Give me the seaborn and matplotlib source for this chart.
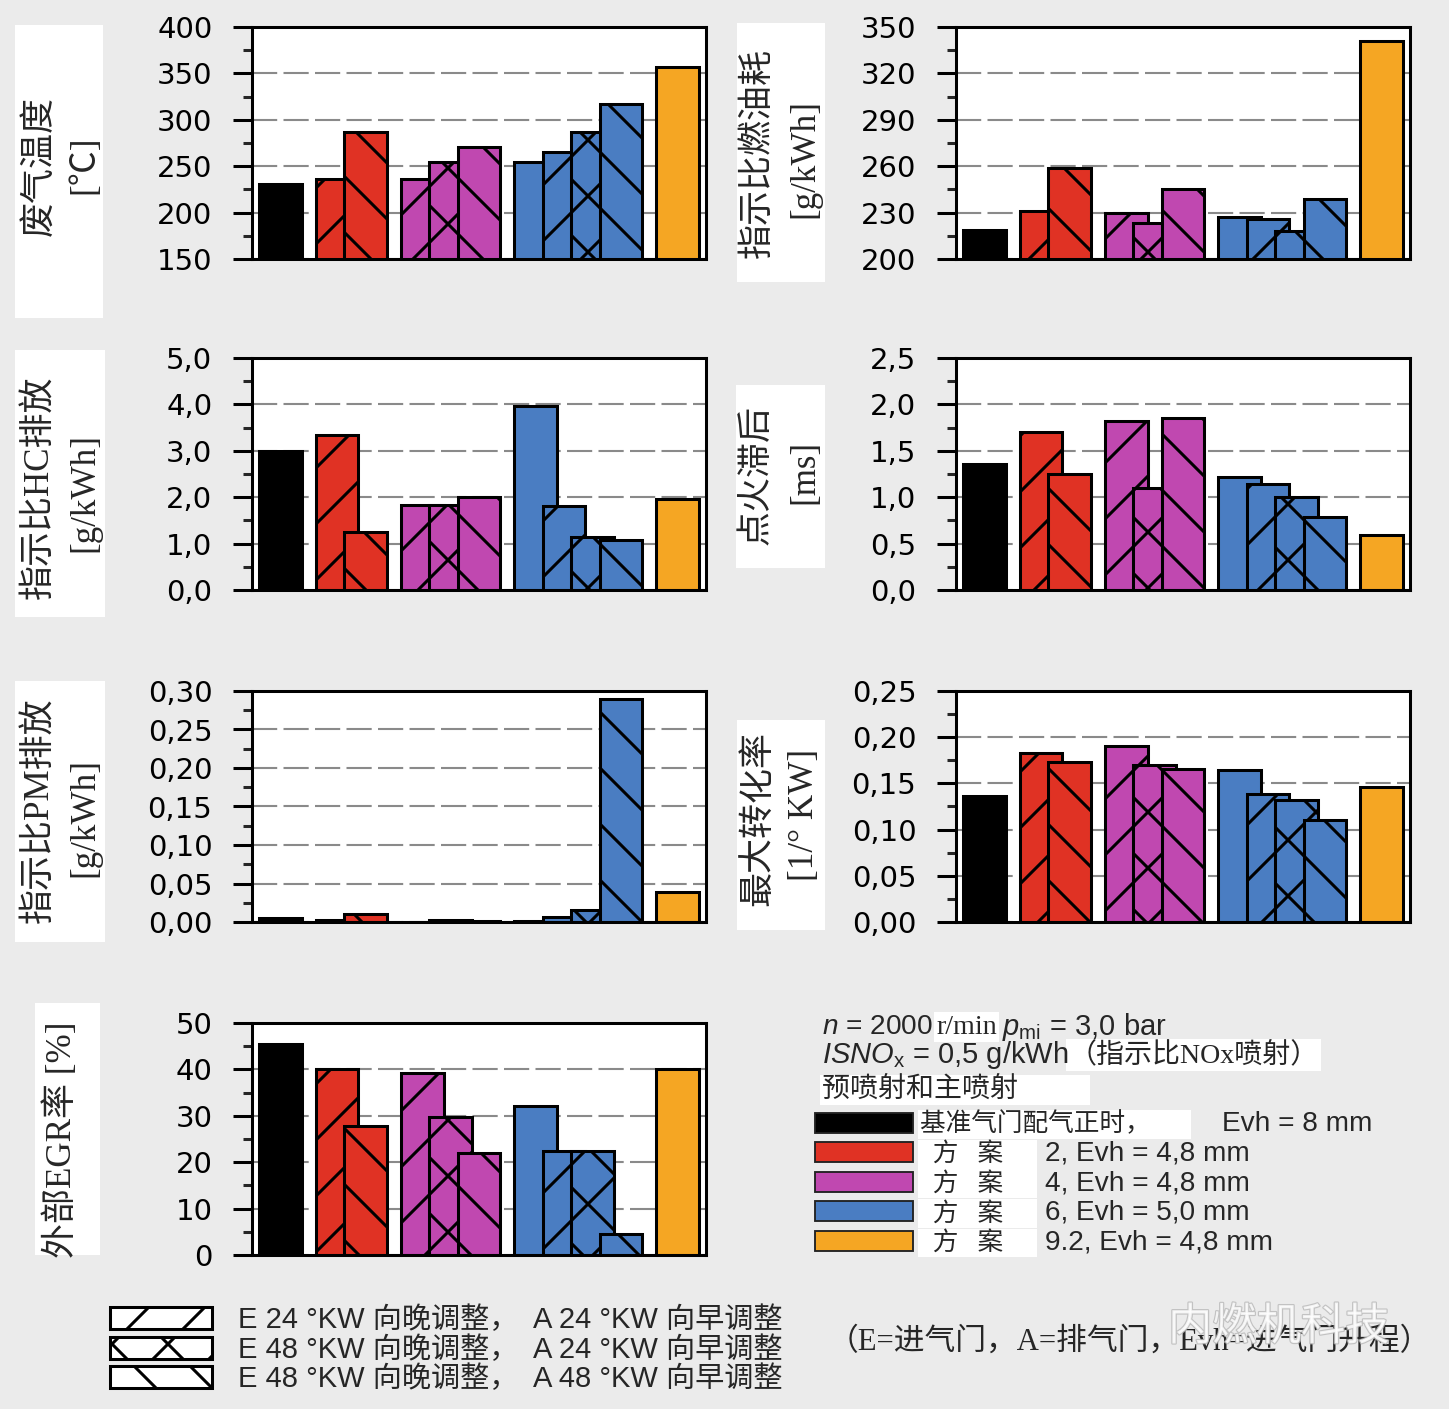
import matplotlib
matplotlib.use('Agg')
import pandas as pd
import matplotlib.pyplot as plt
import matplotlib.patheffects as pe
from matplotlib.patches import Patch, Rectangle
from matplotlib.text import Annotation
from matplotlib.ticker import MultipleLocator, FuncFormatter
import seaborn as sns

# bar slots: baseline, scheme 2 (2 bars), scheme 4 (3), scheme 6 (4), scheme 9.2
positions = [1, 3, 4, 6, 7, 8, 10, 11, 12, 13, 15]
schemes = ['基准', '方案2', '方案2', '方案4', '方案4', '方案4',
           '方案6', '方案6', '方案6', '方案6', '方案9.2']
hatches = ['', '/', '\\', '/', 'x', '\\', '', '/', 'x', '\\', '']
scheme_colors = {'基准': '#000000', '方案2': '#E03224', '方案4': '#C048B0',
                 '方案6': '#4A7DC2', '方案9.2': '#F5A623'}

exhaust_temp = [231, 236, 287, 236, 255, 271, 255, 265, 287, 317, 357]
isfc = [219, 231, 259, 229.5, 223.5, 245, 227, 226, 218, 239, 341]
hc = [3.0, 3.33, 1.24, 1.84, 1.84, 2.01, 3.96, 1.81, 1.15, 1.07, 1.96]
ign_delay = [1.36, 1.70, 1.25, 1.82, 1.10, 1.85, 1.22, 1.14, 1.00, 0.79, 0.59]
pm = [0.005, 0.002, 0.010, 0.000, 0.002, 0.001, 0.001, 0.007, 0.016, 0.290, 0.039]
max_rate = [0.136, 0.183, 0.173, 0.191, 0.170, 0.166, 0.165, 0.138, 0.132, 0.110, 0.146]
egr = [45.4, 40.1, 27.8, 39.2, 29.8, 22.0, 32.2, 22.4, 22.4, 4.5, 40.1]

legend_names = ['基准气门配气正时，      ', '  方   案     ', '  方   案     ',
                '  方   案     ', '  方   案     ']
legend_specs = ['Evh = 8 mm', '2, Evh = 4,8 mm', '4, Evh = 4,8 mm',
                '6, Evh = 5,0 mm', '9.2, Evh = 4,8 mm']
hatch_labels = ['E 24 °KW 向晚调整，  A 24 °KW 向早调整',
                'E 48 °KW 向晚调整，  A 24 °KW 向早调整',
                'E 48 °KW 向晚调整，  A 48 °KW 向早调整']

W, H, DPI = 1449, 1409, 168
BG = '#EBEBEB'

sns.set_theme(style='white')
plt.rcParams['font.family'] = ['DejaVu Sans', 'Noto Sans CJK SC']
plt.rcParams['hatch.linewidth'] = 1.3
plt.rcParams['mathtext.fontset'] = 'custom'
plt.rcParams['mathtext.rm'] = 'Liberation Sans'
plt.rcParams['mathtext.it'] = 'Liberation Sans:italic'

fig = plt.figure(figsize=(W / DPI, H / DPI), dpi=DPI, facecolor=BG)

def fx(x):
    return x / W

def fy(y):
    return 1 - y / H

SERIF_CJK = ['Liberation Serif', 'Noto Sans CJK SC']
SANS_CJK = ['Liberation Sans', 'Noto Sans CJK SC']


def draw_panel(values, box, ylim, major, minor, dec, label_box, label_lines):
    l, t, r, b = box
    ax = fig.add_axes([fx(l), fy(b), (r - l) / W, (b - t) / H])
    df = pd.DataFrame({'pos': positions, 'value': values, 'scheme': schemes})
    sns.barplot(data=df, x='pos', y='value', hue='scheme', palette=scheme_colors,
                native_scale=True, dodge=False, width=1.5, saturation=1,
                errorbar=None, legend=False, edgecolor='black', linewidth=1.3, ax=ax)
    for bar, h in zip(sorted(ax.patches, key=lambda p: p.get_x()), hatches):
        bar.set_hatch(h)
    ax.set_xlim(0, 16)
    ax.set_ylim(*ylim)
    ax.set_xlabel('')
    ax.set_ylabel('')
    ax.set_xticks([])
    ax.yaxis.set_major_locator(MultipleLocator(major, offset=ylim[0]))
    ax.yaxis.set_minor_locator(MultipleLocator(minor, offset=ylim[0]))
    ax.yaxis.set_major_formatter(FuncFormatter(lambda v, p: f'{v:.{dec}f}'.replace('.', ',')))
    ax.tick_params(axis='y', which='major', left=True, direction='out', length=8,
                   width=1.3, pad=9, labelsize=12.5, colors='black')
    ax.tick_params(axis='y', which='minor', left=True, direction='out', length=4, width=1.3)
    ax.yaxis.grid(True, which='major', color='#8a8a8a', linestyle=(0, (12, 3)), linewidth=0.9)
    ax.set_axisbelow(True)
    for s in ax.spines.values():
        s.set_linewidth(1.3)
        s.set_color('black')

    bl, bt, br, bb = label_box
    fig.add_artist(Rectangle((fx(bl), fy(bb)), (br - bl) / W, (bb - bt) / H,
                             transform=fig.transFigure, facecolor='white',
                             edgecolor='none', zorder=0))
    for txt, x, y in label_lines:
        fig.text(fx(x), fy(y), txt, rotation=90, ha='center', va='center',
                 fontsize=15, family=SERIF_CJK)
    return ax


def chain(prev, s, gap=0, **kw):
    # place a text right after the previous one
    a = Annotation(s, xy=(1, 0.5), xycoords=prev, xytext=(gap, 0),
                   textcoords='offset points', va='center', ha='left', **kw)
    fig.add_artist(a)
    return a


draw_panel(exhaust_temp, (252, 27, 706, 259), (150, 400), 50, 25, 0,
           (15, 25, 103, 318), [('废气温度', 40, 166), ('[℃]', 85, 165)])
draw_panel(isfc, (956, 27, 1410, 259), (200, 350), 30, 15, 0,
           (737, 23, 825, 282), [('指示比燃油耗', 758, 153), ('[g/kWh]', 805, 158)])
draw_panel(hc, (252, 358, 706, 590), (0, 5), 1, 0.5, 1,
           (15, 350, 105, 617), [('指示比HC排放', 40, 487), ('[g/kWh]', 85, 493)])
draw_panel(ign_delay, (956, 358, 1410, 590), (0, 2.5), 0.5, 0.25, 1,
           (736, 385, 825, 568), [('点火滞后', 757, 475), ('[ms]', 805, 472)])
draw_panel(pm, (252, 691, 706, 922), (0, 0.30), 0.05, 0.025, 2,
           (15, 681, 105, 942), [('指示比PM排放', 40, 810), ('[g/kWh]', 85, 817)])
draw_panel(max_rate, (956, 691, 1410, 922), (0, 0.25), 0.05, 0.025, 2,
           (737, 720, 825, 930), [('最大转化率', 760, 818), ('[1/° KW]', 805, 815)])
draw_panel(egr, (252, 1023, 706, 1255), (0, 50), 10, 5, 0,
           (35, 1003, 100, 1255), [('外部EGR率 [%]', 62, 1140)])

# operating point text
white = dict(facecolor='white', edgecolor='none', pad=1)
t1 = fig.text(fx(822), fy(1027), '$n$ = 2000', fontsize=12, family='Liberation Sans', va='center')
t2 = chain(t1, 'r/min', gap=1.5, fontsize=12, family='Liberation Serif', bbox=white)
chain(t2, r'$p_{\mathrm{mi}}$ = 3,0 bar', gap=2, fontsize=12.5, family='Liberation Sans')
t4 = fig.text(fx(822), fy(1055), r'$ISNO_{\mathrm{x}}$ = 0,5 g/kWh', fontsize=12.5,
              family='Liberation Sans', va='center')
chain(t4, '（指示比NOx喷射）', gap=0, fontsize=12, family=SERIF_CJK, bbox=white)
fig.text(fx(822), fy(1090), '预喷射和主喷射          ', fontsize=12, family=SERIF_CJK,
         va='center', bbox=white)

# colour legend
color_handles = [Patch(facecolor=c, edgecolor='#222222', linewidth=0.8)
                 for c in scheme_colors.values()]
leg = fig.legend(color_handles, legend_names, loc='upper left',
                 bbox_to_anchor=(fx(815), fy(1112)), frameon=False,
                 borderpad=0, borderaxespad=0, handlelength=3.82, handleheight=0.82,
                 handletextpad=0.27, labelspacing=0.217,
                 prop={'family': SERIF_CJK, 'size': 11})
for t in leg.get_texts():
    t.set_bbox(dict(facecolor='white', edgecolor='none', pad=1))
for i, spec in enumerate(legend_specs):
    x = 1222 if i == 0 else 1045
    fig.text(fx(x), fy(1124 + 29.6 * i), spec, fontsize=12, family='Liberation Sans', va='center')

# hatch legend
hatch_handles = [Patch(facecolor='white', edgecolor='black', linewidth=1.3, hatch=h)
                 for h in ['/', 'x', '\\']]
fig.legend(hatch_handles, hatch_labels, loc='upper left',
           bbox_to_anchor=(fx(110), fy(1306)), frameon=False,
           borderpad=0, borderaxespad=0, handlelength=3.5, handleheight=0.79,
           handletextpad=0.89, labelspacing=0.06,
           prop={'family': SANS_CJK, 'size': 12.5})

fig.text(fx(828), fy(1342), '（E=进气门，A=排气门，Evh=进气门升程）', fontsize=13.2,
         family=SERIF_CJK, va='center')
fig.text(fx(1168), fy(1328), '内燃机科技', fontsize=19, color='white', alpha=0.8,
         family=SANS_CJK, va='center',
         path_effects=[pe.withStroke(linewidth=1, foreground='#b8b8b8')])

fig.savefig('out.png', dpi=DPI, facecolor=BG)
